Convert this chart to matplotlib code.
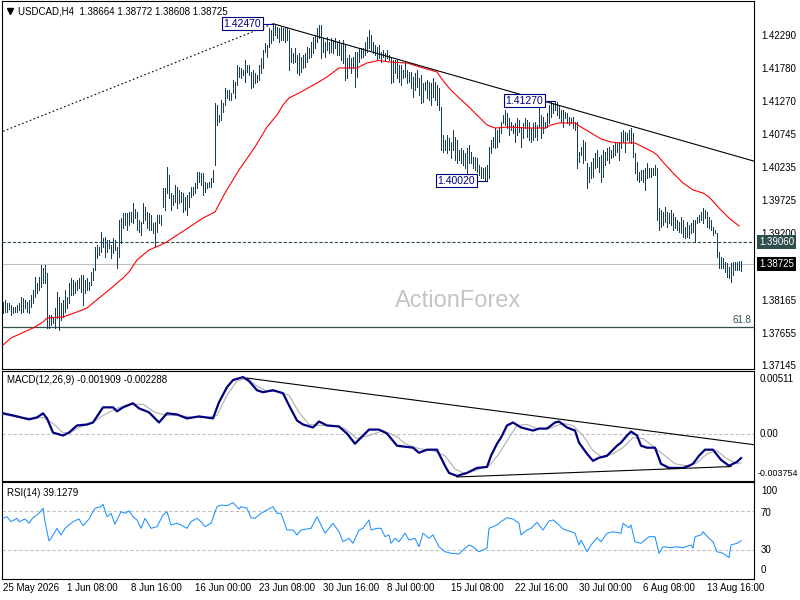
import numpy as np
import matplotlib
matplotlib.use('Agg')
import matplotlib.pyplot as plt
from matplotlib import transforms

plt.rcParams['font.family'] = ['Liberation Sans', 'DejaVu Sans']
plt.rcParams['font.size'] = 7

# ---------------- data ----------------
title_text = 'USDCAD,H4  1.38664 1.38772 1.38608 1.38725'

# bar highs / lows in pips (price * 10000), one per H4 bar
high_pips = [
    13813, 13816, 13812, 13812, 13809, 13805, 13805, 13809, 13812, 13821,
    13819, 13816, 13813, 13816, 13824, 13832, 13852, 13843, 13852, 13871,
    13866, 13871, 13858, 13793, 13793, 13790, 13804, 13829, 13821, 13812,
    13816, 13832, 13821, 13843, 13851, 13847, 13844, 13847, 13851, 13855,
    13855, 13847, 13851, 13844, 13860, 13866, 13899, 13902, 13899, 13922,
    13913, 13915, 13910, 13910, 13902, 13913, 13910, 13899, 13941, 13944,
    13952, 13952, 13952, 13953, 13953, 13968, 13958, 13953, 13941, 13938,
    13968, 13961, 13953, 13952, 13949, 13936, 13938, 13949, 13949, 13949,
    13991, 13991, 14024, 14011, 13983, 13980, 13996, 13992, 13988, 13985,
    13983, 13977, 13980, 13985, 13992, 13992, 13999, 14016, 14016, 14014,
    14014, 14000, 13999, 14000, 14006, 14019, 14123, 14120, 14105, 14128,
    14123, 14147, 14144, 14144, 14139, 14159, 14156, 14183, 14180, 14178,
    14175, 14190, 14183, 14183, 14172, 14175, 14170, 14167, 14183, 14194,
    14206, 14217, 14214, 14240, 14237, 14247, 14245, 14242, 14240, 14242,
    14240, 14242, 14240, 14237, 14209, 14201, 14209, 14198, 14201, 14195,
    14198, 14201, 14211, 14209, 14219, 14226, 14229, 14240, 14245, 14245,
    14225, 14219, 14226, 14219, 14225, 14222, 14225, 14219, 14222, 14217,
    14222, 14214, 14194, 14198, 14194, 14195, 14203, 14203, 14209, 14209,
    14209, 14219, 14226, 14237, 14229, 14219, 14214, 14211, 14214, 14203,
    14206, 14201, 14206, 14198, 14195, 14190, 14190, 14190, 14183, 14183,
    14175, 14187, 14175, 14172, 14172, 14164, 14170, 14175, 14162, 14167,
    14155, 14156, 14159, 14156, 14155, 14162, 14156, 14151, 14147, 14117,
    14074, 14066, 14074, 14069, 14063, 14081, 14070, 14066, 14050, 14053,
    14050, 14045, 14053, 14058, 14047, 14039, 14039, 14038, 14027, 14024,
    14022, 14024, 14027, 14055, 14066, 14070, 14084, 14081, 14084, 14094,
    14105, 14113, 14108, 14100, 14094, 14089, 14092, 14100, 14097, 14086,
    14092, 14100, 14097, 14094, 14084, 14092, 14094, 14089, 14116, 14105,
    14102, 14094, 14108, 14120, 14125, 14123, 14127, 14125, 14120, 14113,
    14113, 14109, 14108, 14102, 14100, 14102, 14094, 14094, 14047, 14055,
    14066, 14063, 14030, 14024, 14031, 14038, 14045, 14050, 14039, 14042,
    14050, 14047, 14053, 14055, 14050, 14058, 14061, 14061, 14063, 14078,
    14081, 14078, 14077, 14081, 14084, 14077, 14045, 14031, 14016, 14019,
    14019, 14022, 14030, 14022, 14022, 14022, 14027, 14022, 13960, 13957,
    13953, 13961, 13953, 13952, 13957, 13952, 13946, 13941, 13938, 13946,
    13941, 13930, 13938, 13933, 13936, 13941, 13941, 13946, 13949, 13953,
    13960, 13957, 13953, 13946, 13941, 13930, 13925, 13921, 13891, 13883,
    13882, 13876, 13874, 13868, 13874, 13876, 13876, 13876, 13877, 13877,
]
low_pips = [
    13796, 13798, 13798, 13802, 13793, 13796, 13798, 13798, 13801, 13796,
    13798, 13804, 13798, 13796, 13805, 13812, 13821, 13827, 13832, 13837,
    13843, 13843, 13773, 13773, 13777, 13780, 13773, 13788, 13770, 13785,
    13790, 13798, 13804, 13812, 13824, 13824, 13827, 13832, 13835, 13829,
    13809, 13827, 13832, 13832, 13840, 13847, 13863, 13882, 13886, 13891,
    13899, 13883, 13891, 13897, 13882, 13890, 13894, 13866, 13883, 13905,
    13929, 13933, 13925, 13933, 13938, 13936, 13944, 13925, 13922, 13918,
    13936, 13941, 13929, 13925, 13925, 13921, 13899, 13922, 13936, 13933,
    13961, 13957, 13983, 13975, 13957, 13964, 13969, 13960, 13968, 13969,
    13953, 13957, 13949, 13961, 13977, 13980, 13983, 13991, 14000, 13996,
    13980, 13985, 13991, 13992, 13992, 14000, 14027, 14089, 14094, 14097,
    14109, 14120, 14131, 14128, 14128, 14139, 14131, 14151, 14164, 14162,
    14167, 14156, 14172, 14167, 14147, 14148, 14155, 14156, 14159, 14170,
    14178, 14203, 14195, 14211, 14217, 14222, 14229, 14225, 14219, 14222,
    14222, 14219, 14222, 14175, 14187, 14186, 14187, 14170, 14167, 14172,
    14178, 14180, 14187, 14194, 14195, 14201, 14209, 14219, 14225, 14194,
    14203, 14195, 14206, 14201, 14203, 14201, 14209, 14198, 14198, 14190,
    14186, 14159, 14162, 14178, 14170, 14178, 14148, 14164, 14187, 14194,
    14195, 14198, 14203, 14209, 14206, 14201, 14198, 14190, 14194, 14187,
    14195, 14190, 14194, 14190, 14155, 14156, 14170, 14162, 14156, 14151,
    14162, 14164, 14155, 14156, 14147, 14133, 14144, 14148, 14136, 14123,
    14125, 14144, 14131, 14128, 14120, 14133, 14128, 14120, 14113, 14050,
    14047, 14050, 14045, 14050, 14038, 14050, 14035, 14030, 14035, 14030,
    14027, 14022, 14014, 14030, 14030, 14022, 14019, 14016, 14011, 14006,
    14006, 14002, 14002, 14006, 14045, 14055, 14053, 14055, 14063, 14077,
    14092, 14089, 14084, 14074, 14081, 14077, 14063, 14074, 14078, 14055,
    14069, 14084, 14070, 14066, 14063, 14066, 14070, 14066, 14086, 14069,
    14077, 14084, 14086, 14092, 14102, 14108, 14113, 14105, 14100, 14094,
    14086, 14100, 14092, 14089, 14092, 14084, 14081, 14022, 14031, 14042,
    14030, 14035, 13991, 14000, 14006, 14008, 14022, 14024, 14016, 14000,
    14008, 14027, 14035, 14030, 14038, 14039, 14042, 14047, 14035, 14053,
    14063, 14047, 14066, 14063, 14061, 14039, 14014, 14003, 14000, 14003,
    14000, 13988, 14006, 14008, 14008, 14011, 14011, 13941, 13925, 13930,
    13933, 13938, 13930, 13936, 13933, 13925, 13929, 13925, 13922, 13921,
    13915, 13913, 13915, 13913, 13921, 13922, 13907, 13936, 13938, 13941,
    13936, 13944, 13930, 13929, 13925, 13918, 13921, 13883, 13866, 13866,
    13866, 13860, 13852, 13851, 13844, 13855, 13863, 13863, 13863, 13861,
]

# moving average (read at sampled bars)
ma_idx = [0, 4, 15, 20, 22, 30, 37, 42, 45, 53,
          60, 63, 67, 73, 81, 91, 100, 106, 111, 118,
          126, 132, 137, 140, 143, 148, 157, 162, 168, 177,
          182, 188, 193, 202, 210, 217, 219, 223, 228, 233,
          238, 242, 246, 253, 262, 271, 274, 278, 286, 289,
          294, 299, 304, 308, 316, 325, 327, 330, 335, 340,
          345, 350, 353, 358, 363, 368]
ma_val = [1.37461, 1.37571, 1.37726, 1.37820, 1.37882, 1.37898, 1.37976, 1.38038, 1.38116, 1.38319,
          1.38506, 1.38600, 1.38787, 1.38942, 1.39052, 1.39254, 1.39441, 1.39535, 1.39831, 1.40190,
          1.40548, 1.40860, 1.41047, 1.41203, 1.41312, 1.41390, 1.41546, 1.41640, 1.41780, 1.41780,
          1.41858, 1.41897, 1.41873, 1.41858, 1.41780, 1.41718, 1.41624, 1.41468, 1.41312, 1.41172,
          1.41016, 1.40891, 1.40844, 1.40860, 1.40844, 1.40844, 1.40891, 1.40922, 1.40922, 1.40860,
          1.40767, 1.40673, 1.40626, 1.40611, 1.40611, 1.40470, 1.40424, 1.40314, 1.40143, 1.39987,
          1.39878, 1.39831, 1.39769, 1.39597, 1.39441, 1.39317]

# MACD main and signal (values x 1e-3)
macd_idx = [0, 5, 13, 17, 20, 22, 25, 30, 33, 37,
            42, 45, 50, 55, 57, 60, 65, 68, 73, 78,
            82, 87, 92, 98, 105, 108, 112, 115, 120, 123,
            127, 130, 135, 140, 143, 147, 150, 155, 158, 162,
            168, 172, 176, 178, 183, 188, 192, 197, 205, 208,
            212, 217, 218, 221, 223, 227, 232, 237, 242, 244,
            247, 249, 252, 255, 259, 265, 268, 272, 276, 278,
            282, 286, 288, 292, 295, 298, 302, 307, 309, 312,
            314, 317, 319, 322, 326, 329, 333, 340, 343, 345,
            348, 351, 355, 359, 363, 367, 369]
macd_val = [1.70, 1.53, 1.21, 1.37, 1.70, 1.29, 0.15, -0.09, 0.15, 0.72,
            0.80, 0.96, 2.18, 2.18, 1.86, 2.18, 2.51, 2.10, 1.78, 0.96,
            1.70, 1.61, 1.29, 1.45, 1.29, 2.59, 3.81, 4.38, 4.62, 4.30,
            3.56, 3.40, 3.56, 3.32, 2.34, 1.12, 0.80, 0.56, 1.04, 0.72,
            0.64, 0.07, -0.75, -0.42, 0.39, 0.39, 0.07, -0.91, -1.07, -1.48,
            -1.23, -1.23, -1.56, -2.53, -3.10, -3.35, -3.10, -2.70, -2.62, -1.72,
            -0.75, -0.26, 0.72, 0.96, 0.56, 0.31, 0.47, 0.47, 0.96, 1.04,
            0.56, 0.31, -0.66, -1.56, -2.13, -1.88, -1.72, -0.91, -0.66, -0.09,
            0.23, -0.09, -0.91, -1.07, -1.07, -2.37, -2.70, -2.70, -2.53, -2.37,
            -1.72, -1.23, -1.23, -2.05, -2.53, -2.21, -1.909]
signal_idx = [0, 8, 15, 20, 25, 30, 33, 38, 45, 50,
              57, 63, 70, 76, 82, 88, 95, 102, 107, 112,
              117, 122, 127, 132, 137, 143, 148, 153, 158, 165,
              171, 177, 183, 190, 197, 201, 208, 215, 221, 226,
              231, 237, 243, 248, 253, 257, 262, 267, 273, 280,
              285, 290, 295, 300, 305, 310, 315, 320, 326, 331,
              336, 342, 347, 352, 357, 362, 367, 369]
signal_val = [1.61, 1.37, 1.29, 1.37, 0.88, 0.15, 0.07, 0.56, 0.96, 1.53,
              2.10, 2.43, 2.43, 1.78, 1.53, 1.53, 1.37, 1.37, 1.53, 3.16,
              4.30, 4.54, 3.89, 3.48, 3.48, 3.16, 1.78, 0.80, 0.72, 0.72,
              0.47, -0.34, -0.09, 0.31, -0.18, -0.75, -1.15, -1.31, -1.72, -2.78,
              -3.19, -2.86, -2.53, -1.56, -0.26, 0.72, 0.80, 0.47, 0.47, 0.88,
              0.72, -0.09, -1.31, -1.88, -1.56, -1.07, -0.26, -0.34, -1.07, -1.72,
              -2.37, -2.53, -2.29, -1.56, -1.31, -1.97, -2.37, -2.288]

# RSI(14)
rsi_idx = [0, 2, 4, 7, 8, 11, 13, 15, 18, 20,
           21, 23, 24, 27, 29, 31, 33, 35, 38, 40,
           43, 46, 49, 50, 52, 54, 56, 59, 61, 63,
           65, 67, 69, 71, 74, 77, 80, 82, 84, 87,
           89, 92, 94, 97, 99, 101, 104, 107, 109, 112,
           115, 118, 119, 122, 124, 126, 129, 132, 135, 137,
           139, 142, 145, 147, 149, 154, 157, 159, 161, 163,
           165, 168, 170, 173, 175, 178, 180, 183, 184, 187,
           189, 191, 193, 194, 196, 198, 201, 203, 206, 208,
           210, 213, 215, 218, 221, 224, 228, 230, 233, 235,
           238, 242, 243, 247, 249, 252, 255, 258, 259, 262,
           264, 267, 270, 273, 275, 278, 280, 284, 286, 288,
           289, 292, 294, 297, 299, 302, 305, 309, 310, 313,
           314, 316, 319, 323, 326, 328, 330, 334, 337, 340,
           344, 345, 346, 349, 350, 353, 355, 357, 360, 363,
           364, 367, 369]
rsi_val = [62.8, 64.5, 59.3, 62.8, 59.3, 62.1, 57.6, 63.5, 68.1, 73.4,
           59.3, 38.9, 41.8, 52.3, 45.3, 52.3, 55.8, 59.3, 62.1, 55.1,
           62.1, 73.4, 75.1, 77.6, 64.5, 68.1, 56.5, 69.8, 68.1, 70.8,
           64.5, 61.1, 52.3, 62.8, 52.3, 54.0, 66.3, 69.8, 55.8, 57.6,
           55.8, 52.3, 59.3, 62.8, 59.3, 54.0, 57.6, 75.1, 76.8, 76.1,
           79.3, 72.6, 75.1, 73.4, 63.5, 62.8, 68.1, 71.6, 75.1, 68.1,
           68.1, 50.5, 50.5, 45.3, 50.5, 52.3, 64.5, 55.8, 47.1, 52.3,
           57.6, 48.7, 38.2, 41.8, 36.5, 50.5, 52.3, 61.1, 50.5, 52.3,
           52.3, 43.5, 45.3, 36.5, 41.8, 38.2, 47.1, 40.0, 41.8, 32.9,
           47.1, 41.8, 45.3, 32.9, 27.7, 26.0, 25.3, 29.5, 34.7, 32.9,
           27.7, 31.3, 52.3, 55.8, 59.3, 63.5, 62.1, 57.6, 45.3, 50.5,
           52.3, 58.6, 50.5, 60.0, 61.1, 55.8, 51.6, 48.7, 47.1, 34.7,
           40.0, 27.7, 34.7, 42.4, 38.2, 47.1, 48.7, 47.1, 57.6, 52.9,
           55.8, 38.2, 36.5, 43.5, 43.5, 26.0, 32.9, 31.9, 32.9, 31.9,
           34.7, 31.3, 43.5, 45.3, 48.7, 41.8, 38.2, 27.7, 26.0, 21.4,
           34.7, 36.5, 39.1279]

date_idx = [0, 32, 64, 96, 128, 160, 192, 224, 256, 288, 320, 352]
date_labels = ['25 May 2026', '1 Jun 08:00', '8 Jun 16:00', '16 Jun 00:00', '23 Jun 08:00',
               '30 Jun 16:00', '8 Jul 00:00', '15 Jul 08:00', '22 Jul 16:00', '30 Jul 00:00',
               '6 Aug 08:00', '13 Aug 16:00']

price_ticks = [1.42290, 1.41780, 1.41270, 1.40745, 1.40235, 1.39725, 1.39200,
               1.38165, 1.37655, 1.37145]
support_level = 1.39060
last_close = 1.38725
fib_level = 1.37738
fib_label = '61.8'
extremes = [(135, 1.42470), (276, 1.41270), (242, 1.40020)]

trend_main_x, trend_main_y = [135, 376], [1.42470, 1.40323]
trend_dot_x, trend_dot_y = [0, 135], [1.40793, 1.42470]
macd_up_x, macd_up_y = [122, 376], [0.00454, -0.00084]
macd_lo_x, macd_lo_y = [227, 364], [-0.00343, -0.00259]

macd_max, macd_min = 0.00511, -0.003754
macd_last, signal_last = -0.001909, -0.002288
rsi_last = 39.1279
rsi_levels = [70, 30]

# ---------------- figure ----------------
W, H = 800, 600
fig = plt.figure(figsize=(8, 6), dpi=100)
fig.patch.set_facecolor('white')


def add_px(l, t, r, b):
    return fig.add_axes([l / W, 1 - b / H, (r - l) / W, (b - t) / H])


ax_p = add_px(2, 1, 754, 369)
ax_m = add_px(2, 371, 754, 481)
ax_r = add_px(2, 482, 754, 579)

BAR = '#163d5c'
NAVY = '#000080'
SLATE = '#2F4F4F'
xlim = (-0.5, 375.5)

for ax in (ax_p, ax_m, ax_r):
    ax.set_xlim(*xlim)
    for s in ax.spines.values():
        s.set_linewidth(0.8)
        s.set_color('black')
    ax.yaxis.tick_right()
    ax.tick_params(axis='y', length=0, pad=5, labelsize=7)
    ax.set_facecolor('white')

ax_p.set_xticks([])
ax_m.set_xticks([])

# ---- price panel ----
n = len(high_pips)
idx = np.arange(n)
high = np.array(high_pips) / 1e4
low = np.array(low_pips) / 1e4
ax_p.set_ylim(1.37087, 1.42824)
ax_p.vlines(idx, low, high, color=BAR, linewidth=0.55, antialiased=False, zorder=3)
ax_p.plot(ma_idx, ma_val, color='red', lw=0.8, zorder=4)

ax_p.axhline(support_level, color=SLATE, lw=0.8, dashes=(3, 1.6), zorder=2)
ax_p.axhline(last_close, color='#C0C0C0', lw=0.8, zorder=1)
ax_p.axhline(fib_level, color=SLATE, lw=0.9, zorder=2)
ax_p.plot(trend_main_x, trend_main_y, color='black', lw=0.8, zorder=4)
ax_p.plot(trend_dot_x, trend_dot_y, color='black', lw=0.8, dashes=(1.5, 2.2), zorder=4)

ax_p.set_yticks(price_ticks)
ax_p.set_yticklabels([f'{v:.5f}' for v in price_ticks])

tr_p = transforms.blended_transform_factory(ax_p.transAxes, ax_p.transData)
ax_p.text(1.0066, support_level, f'{support_level:.5f}', transform=tr_p, color='white',
          va='center', ha='left', fontsize=7, clip_on=False, zorder=6,
          bbox=dict(boxstyle='square,pad=0.2', fc=SLATE, ec='none'))
ax_p.text(1.0066, last_close, f'{last_close:.5f}', transform=tr_p, color='white',
          va='center', ha='left', fontsize=7, clip_on=False, zorder=6,
          bbox=dict(boxstyle='square,pad=0.2', fc='black', ec='none'))
ax_p.annotate(fib_label, xy=(1.0, fib_level), xycoords=tr_p, xytext=(-2, 1.5),
              textcoords='offset points', ha='right', va='bottom', color=SLATE, fontsize=7)

for i_ext, p_ext in extremes:
    ax_p.plot([i_ext - 5, i_ext], [p_ext, p_ext], color=NAVY, lw=0.8, zorder=5)
    ax_p.text(i_ext - 6, p_ext, f'{p_ext:.5f}', ha='right', va='center', color=NAVY,
              fontsize=7.5, zorder=6,
              bbox=dict(boxstyle='square,pad=0.15', fc='white', ec=NAVY, lw=0.8))

ax_p.text(0.6064, 0.185, 'ActionForex', transform=ax_p.transAxes, ha='center', va='center',
          fontsize=17, color='#C4C4C4', zorder=0)
ax_p.text(16 / 752, (369 - 11) / 368, title_text, transform=ax_p.transAxes,
          ha='left', va='center', fontsize=7, color='black')
ax_p.plot([8 / 752], [(369 - 11) / 368], marker='v', color='black', markersize=4.5,
          transform=ax_p.transAxes, clip_on=False)

# ---- MACD panel ----
ax_m.set_ylim(macd_min, macd_max)
ax_m.axhline(0, color='#C0C0C0', lw=0.8, dashes=(3, 2))
ax_m.plot(signal_idx, np.array(signal_val) / 1e3, color='#B0B0B0', lw=0.8, zorder=3)
ax_m.plot(macd_idx, np.array(macd_val) / 1e3, color=NAVY, lw=1.6, zorder=4)
ax_m.plot(macd_up_x, macd_up_y, color='black', lw=0.8, zorder=5)
ax_m.plot(macd_lo_x, macd_lo_y, color='black', lw=0.8, zorder=5)
ax_m.set_yticks([])
tr_m = transforms.blended_transform_factory(ax_m.transAxes, ax_m.transData)
ax_m.annotate(f'{macd_max:.5f}', xy=(1.0, macd_max), xycoords=tr_m, xytext=(4, -2),
              textcoords='offset points', ha='left', va='top', fontsize=7, annotation_clip=False)
ax_m.annotate('0.00', xy=(1.0, 0), xycoords=tr_m, xytext=(4, 0),
              textcoords='offset points', ha='left', va='center', fontsize=7, annotation_clip=False)
ax_m.annotate(f'{macd_min:.6f}', xy=(1.0, macd_min), xycoords=tr_m, xytext=(2.5, 2),
              textcoords='offset points', ha='left', va='bottom', fontsize=6.4,
              annotation_clip=False)
ax_m.text(5 / 752, 0.915, f'MACD(12,26,9) {macd_last:.6f} {signal_last:.6f}',
          transform=ax_m.transAxes, ha='left', va='center', fontsize=7)

# ---- RSI panel ----
ax_r.set_ylim(-1.05, 101.05)
for lvl in rsi_levels:
    ax_r.axhline(lvl, color='#C0C0C0', lw=0.8, dashes=(3, 2))
ax_r.plot(rsi_idx, rsi_val, color='#1E90FF', lw=0.75, zorder=3)
ax_r.set_yticks([])
tr_r = transforms.blended_transform_factory(ax_r.transAxes, ax_r.transData)
for val, dy, va in [(100, -2, 'top'), (70, -1, 'center'), (30, 0, 'center'), (0, 2, 'bottom')]:
    ax_r.annotate(str(val), xy=(1.0, val), xycoords=tr_r, xytext=(5, dy),
                  textcoords='offset points', ha='left', va=va, fontsize=7,
                  annotation_clip=False)
ax_r.text(5 / 752, 0.885, f'RSI(14) {rsi_last:.4f}', transform=ax_r.transAxes,
          ha='left', va='center', fontsize=7)

ax_r.set_xticks(date_idx)
ax_r.set_xticklabels(date_labels)
ax_r.tick_params(axis='x', length=0, pad=3, labelsize=7)
for lab in ax_r.get_xticklabels():
    lab.set_ha('left')

fig.savefig('out.png', dpi=100, facecolor='white')
